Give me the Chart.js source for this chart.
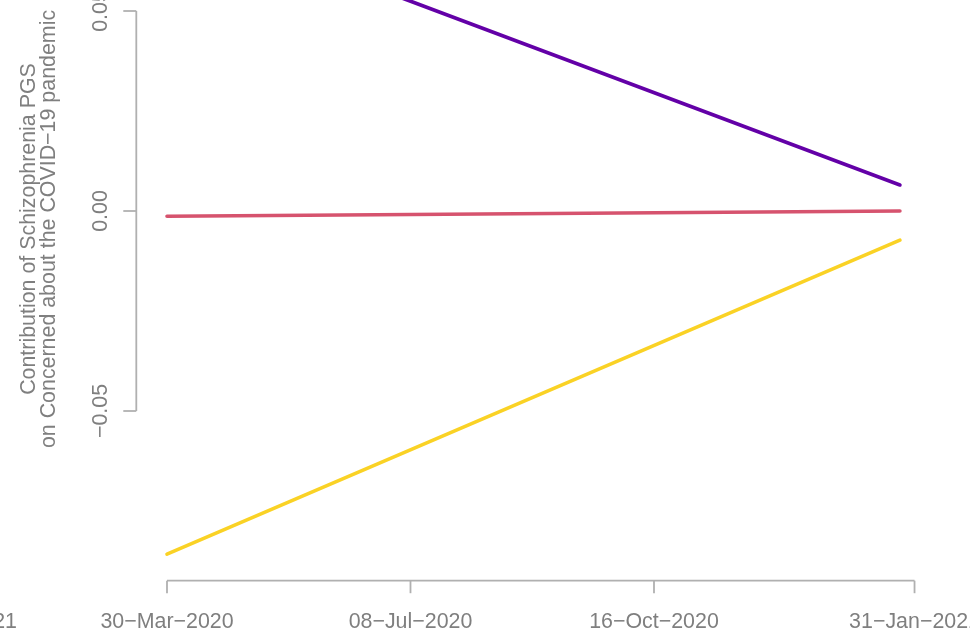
<!DOCTYPE html>
<html><head><meta charset="utf-8">
<script src="https://cdn.jsdelivr.net/npm/chart.js@4/dist/chart.umd.min.js"></script>
<style>
html,body{margin:0;padding:0;width:970px;height:633px;overflow:hidden;background:#fff}
#wrap{position:absolute;left:0;top:-120px;width:970px;height:753px}
</style></head>
<body><div id="wrap"><canvas id="c"></canvas></div>
<script>
// ---- data ----
const dates = ['2020-03-30', '2021-01-25'];
const seriesNames = ['Series 1', 'Series 2', 'Series 3'];
const purpleValues = [0.0753, 0.0065];
const redValues = [-0.0013, 0.0000];
const yellowValues = [-0.0858, -0.0073];
const xTickDates = ['2020-03-30', '2020-07-08', '2020-10-16', '2021-01-31'];
const xTickLabels = ['30−Mar−2020', '08−Jul−2020', '16−Oct−2020', '31−Jan−2021'];
const yTickValues = [-0.05, 0, 0.05];
const yTickLabels = ['−0.05', '0.00', '0.05'];
const yTitle = ['Contribution of Schizophrenia PGS', 'on Concerned about the COVID−19 pandemic'];
const neighbourLabel = '31−Jan−2021';

const origin = Date.parse(dates[0]);
const dayOf = s => (Date.parse(s) - origin) / 86400000;
const pts = vals => dates.map((d, i) => ({x: dayOf(d), y: vals[i]}));

const TEXT = '#7f7f7f', AXIS = '#b0b0b0';
const FONT = '21.4px "Liberation Sans", Arial, sans-serif';

const axesPlugin = {
  id: 'rAxes',
  afterDraw(chart) {
    const ctx = chart.ctx, xs = chart.scales.x, ys = chart.scales.y, a = chart.chartArea;
    ctx.save();
    ctx.strokeStyle = AXIS; ctx.lineWidth = 1.8; ctx.lineCap = 'butt';
    // y axis
    const yx = a.left + 0.3;
    const yTop = ys.getPixelForValue(yTickValues[yTickValues.length - 1]);
    const yBot = ys.getPixelForValue(yTickValues[0]);
    ctx.beginPath(); ctx.moveTo(yx, yTop); ctx.lineTo(yx, yBot); ctx.stroke();
    yTickValues.forEach(v => {
      const p = ys.getPixelForValue(v);
      ctx.beginPath(); ctx.moveTo(yx, p); ctx.lineTo(yx - 13, p); ctx.stroke();
    });
    // x axis
    const xy = a.bottom - 0.3;
    const xL = xs.getPixelForValue(dayOf(xTickDates[0]));
    const xR = xs.getPixelForValue(dayOf(xTickDates[xTickDates.length - 1]));
    ctx.beginPath(); ctx.moveTo(xL, xy); ctx.lineTo(xR, xy); ctx.stroke();
    xTickDates.forEach(d => {
      const p = xs.getPixelForValue(dayOf(d));
      ctx.beginPath(); ctx.moveTo(p, xy); ctx.lineTo(p, xy + 12.5); ctx.stroke();
    });
    // labels
    ctx.fillStyle = TEXT; ctx.font = FONT;
    ctx.textAlign = 'center'; ctx.textBaseline = 'alphabetic';
    xTickDates.forEach((d, i) => {
      ctx.fillText(xTickLabels[i], xs.getPixelForValue(dayOf(d)), xy + 47.5);
    });
    // label of neighbouring panel, cut off at the left edge
    ctx.textAlign = 'right';
    ctx.fillText(neighbourLabel, 17, xy + 47.5);
    ctx.textAlign = 'center';
    yTickValues.forEach((v, i) => {
      const p = ys.getPixelForValue(v);
      ctx.save(); ctx.translate(106.5, p); ctx.rotate(-Math.PI / 2);
      ctx.fillText(yTickLabels[i], 0, 0); ctx.restore();
    });
    const cy = 229 + 120;
    [35, 55].forEach((bx, i) => {
      ctx.save(); ctx.translate(bx, cy); ctx.rotate(-Math.PI / 2);
      ctx.fillText(yTitle[i], 0, 0); ctx.restore();
    });
    ctx.restore();
  }
};

const lineDs = (label, vals, color) => ({
  label, data: pts(vals), borderColor: color, backgroundColor: color,
  borderWidth: 3.6, pointRadius: 0, borderCapStyle: 'round', tension: 0, fill: false
});

new Chart(document.getElementById('c'), {
  type: 'line',
  data: {
    datasets: [
      lineDs(seriesNames[0], purpleValues, '#6300a7'),
      lineDs(seriesNames[1], redValues, '#d6536e'),
      lineDs(seriesNames[2], yellowValues, '#fad225')
    ]
  },
  options: {
    responsive: true, maintainAspectRatio: false, animation: false,
    layout: {padding: {left: 136, right: 41, top: 11, bottom: 52}},
    plugins: {legend: {display: false}, tooltip: {enabled: false}, title: {display: false}},
    scales: {
      x: {type: 'linear', display: false, min: -12.73, max: 312.94},
      y: {type: 'linear', display: false, min: -0.0925, max: 0.08}
    }
  },
  plugins: [axesPlugin]
});
</script>
</body></html>
